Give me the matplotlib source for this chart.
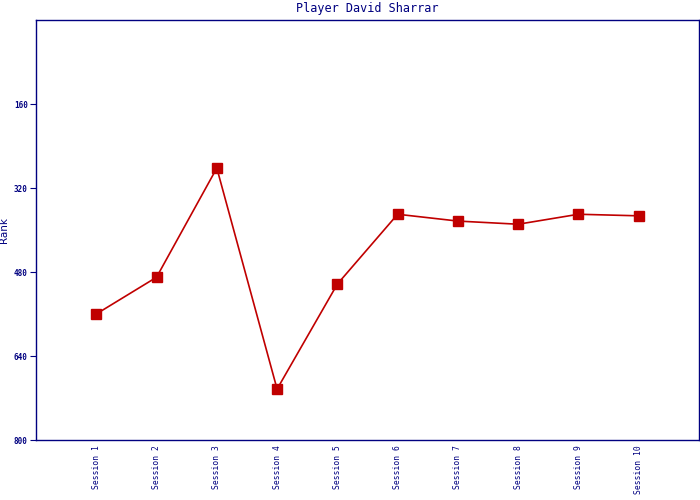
import matplotlib
matplotlib.use("Agg")
import matplotlib.pyplot as plt

sessions = ["Session 1", "Session 2", "Session 3", "Session 4", "Session 5",
            "Session 6", "Session 7", "Session 8", "Session 9", "Session 10"]
ranks = [560, 490, 282, 703, 503, 370, 383, 389, 370, 373]
yticks = [160, 320, 480, 640, 800]

navy = "#000080"
red = "#c00000"

fig = plt.figure(figsize=(7, 5), dpi=100)
ax = fig.add_axes([36/700, 60/500, 663/700, 420/500])
x = list(range(1, len(sessions) + 1))
ax.plot(x, ranks, color=red, linewidth=1.2, marker="s", markersize=7,
        markerfacecolor=red, markeredgecolor=red)
ax.set_xlim(0, 11)
ax.set_ylim(800, 0)
ax.set_yticks(yticks)
ax.set_yticklabels([str(t) for t in yticks], fontsize=5.5, family="DejaVu Sans Mono",
                   color=navy, fontweight="bold")
ax.set_xticks(x)
ax.set_xticklabels(sessions, rotation=90, fontsize=5.8, family="DejaVu Sans Mono",
                   color=navy, va="top")
ax.tick_params(axis="x", length=0, pad=4)
ax.tick_params(axis="y", length=4, color=navy, pad=2)
for s in ax.spines.values():
    s.set_color(navy)
    s.set_linewidth(1)
ax.set_title("Player David Sharrar", fontsize=8.5, family="DejaVu Sans Mono",
             color=navy, pad=6)
ax.set_ylabel("Rank", fontsize=7.5, color=navy)
ax.yaxis.set_label_coords(-27/663, 0.5)
fig.savefig("out.png", dpi=100)
